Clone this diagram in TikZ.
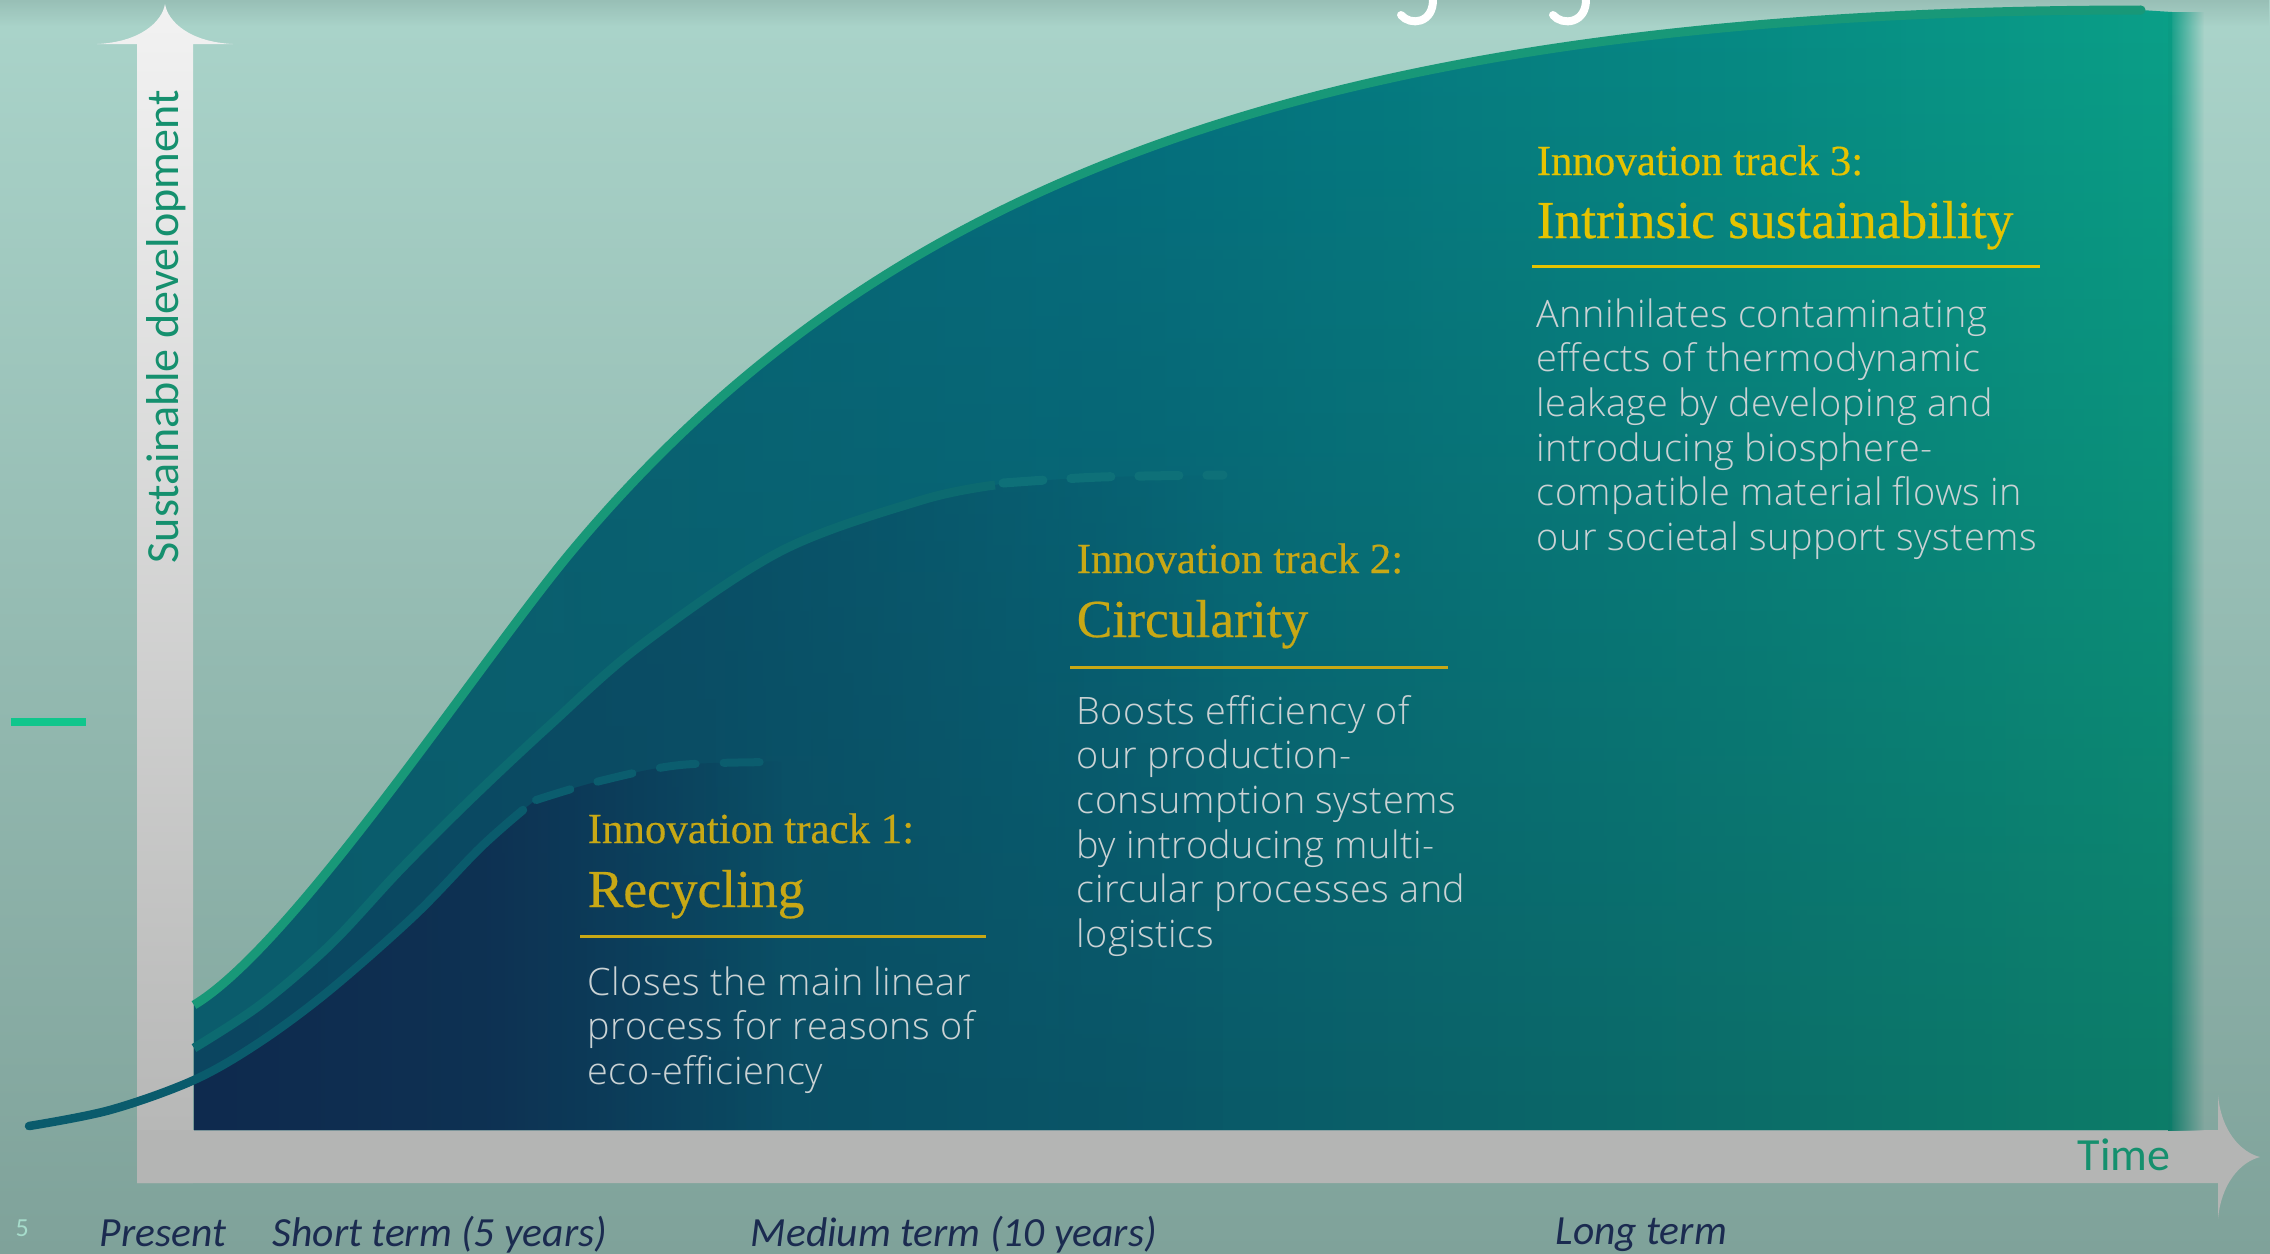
\documentclass[tikz,border=0pt]{standalone}
\usepackage{fontspec}
\usetikzlibrary{fadings}
\newfontfamily\carlito{Carlito}
\IfFontExistsTF{Open Sans Light}{\newfontfamily\bodyft{Open Sans Light}[LetterSpace=1.3]}{\newfontfamily\bodyft{Open Sans}}
\newfontfamily\serifft{Liberation Serif}[FakeBold=0.4]
\definecolor{bgtop}{HTML}{AAD4CA}
\definecolor{bgbot}{HTML}{7FA29A}
\definecolor{topband}{HTML}{98BFB6}
\definecolor{barTop}{HTML}{F2F2F2}
\definecolor{barBot}{HTML}{B4B5B4}
\definecolor{tL}{HTML}{0B5C6C}
\definecolor{tM}{HTML}{05707F}
\definecolor{tQ}{HTML}{068A84}
\definecolor{tR}{HTML}{0AA088}
\definecolor{bL}{HTML}{0B5C6C}
\definecolor{bM}{HTML}{0A5868}
\definecolor{bR}{HTML}{0D7C68}
\definecolor{mcol}{HTML}{0B4560}
\definecolor{lcol}{HTML}{0F2A4E}
\definecolor{edgeT}{HTML}{0A9C84}
\definecolor{edgeB}{HTML}{0D7A68}
\definecolor{greenline}{HTML}{189878}
\definecolor{midline}{HTML}{0C6A70}
\definecolor{lowline}{HTML}{0A5B6C}
\definecolor{middashc}{HTML}{0E7078}
\definecolor{lowdashc}{HTML}{0B5D6E}
\definecolor{gold}{HTML}{C8A815}
\definecolor{goldB}{HTML}{E6C300}
\definecolor{bodygray}{HTML}{CAD2D4}
\definecolor{navytxt}{HTML}{1B2B50}
\definecolor{axisgreen}{HTML}{15906E}
\definecolor{dashgreen}{HTML}{10C68C}
\definecolor{pagenum}{HTML}{A6DCCB}
\pgfdeclarehorizontalshading{chartT}{100bp}{color(0bp)=(tL); color(25bp)=(tL); color(48bp)=(tM); color(64bp)=(tQ); color(75bp)=(tR); color(100bp)=(tR)}
\tikzfading[name=fadeR, left color=transparent!0, right color=transparent!100]
\tikzfading[name=fadeUp, top color=transparent!100, bottom color=transparent!0]
\tikzfading[name=fadeDown, top color=transparent!0, bottom color=transparent!100]
\tikzfading[name=fadeM, left color=transparent!0, right color=transparent!100, middle color=transparent!35]
\tikzfading[name=fadeL, left color=transparent!0, right color=transparent!100, middle color=transparent!25]
\def\topcurve{(194,1005) .. controls (294,945) and (481,660) .. (571,552) .. controls (871,192) and (1300,10) .. (2141,10)}
\def\midcurve{plot[smooth,tension=0.55] coordinates {(194,1048) (260,1005) (330,945) (400,870) (470,800) (550,725) (641,645) (781,551) (922,500) (995,485)}}
\def\middash{plot[smooth,tension=0.55] coordinates {(1003,483) (1100,477) (1223,475)}}
\def\lowfull{plot[smooth,tension=0.55] coordinates {(29,1126) (110,1110) (194,1080) (260,1042) (330,990) (415,915) (480,848) (523,810)}}
\def\lowfill{plot[smooth,tension=0.55] coordinates {(194,1080) (260,1042) (330,990) (415,915) (480,848) (523,810)}}
\def\lowdash{plot[smooth,tension=0.55] coordinates {(536,800) (600,781) (680,765) (782,762)}}
\edef\regionT{(194,1130) -- \topcurve -- (2172,12) -- (2172,1130) -- cycle}
\edef\regionM{(194,1130) -- \midcurve -- \middash -- (1223,1130) -- cycle}
\edef\regionL{(194,1130) -- \lowfill -- \lowdash -- (782,1130) -- cycle}
\begin{document}
\begin{tikzpicture}[x=0.01cm,y=-0.01cm,
  vlabel/.style={font=\carlito\fontsize{13.1pt}{16pt}\selectfont, text=axisgreen, inner sep=0pt, anchor=base west},
  whenlbl/.style={font=\carlito\itshape\fontsize{11.8pt}{14pt}\selectfont, text=navytxt, inner sep=0pt, anchor=base west},
  trackhead/.style={font=\serifft\fontsize{12.2pt}{14pt}\selectfont, inner sep=0pt, anchor=base west},
  tracktitle/.style={font=\serifft\fontsize{15.2pt}{18pt}\selectfont, inner sep=0pt, anchor=base west},
  bodytxt/.style={font=\bodyft\fontsize{10.75pt}{12.7pt}\selectfont, text=bodygray, inner sep=0pt, anchor=base west},
  rulel/.style={line width=0.03cm}
]
\useasboundingbox (0,0) rectangle (2270,1253);
% background
\shade[top color=bgtop, bottom color=bgbot] (0,0) rectangle (2270,1253);
\fill[topband, path fading=fadeDown] (0,0) rectangle (2270,26);
% cut-off title fragments
\draw[white, line width=0.08cm, line cap=round] (1433,-2) .. controls (1434,24) and (1410,26) .. (1401,15);
\draw[white, line width=0.08cm, line cap=round] (1586,-2) .. controls (1587,24) and (1562,26) .. (1553,15);
% vertical axis arrow
\shade[top color=barTop, bottom color=barBot] (137,1183) -- (137,44) -- (97,44) .. controls (140,42) and (162,22) .. (165,4) .. controls (168,22) and (190,42) .. (233,44) -- (193,44) -- (193,1183) -- cycle;
% horizontal axis arrow
\fill[barBot] (137,1130) -- (2218,1130) -- (2218,1095) .. controls (2221,1130) and (2240,1152) .. (2260,1157) .. controls (2240,1162) and (2221,1184) .. (2218,1219) -- (2218,1183) -- (137,1183) -- cycle;
% chart fills
\shade[shading=chartT] \regionT;
\begin{scope}
  \clip \regionT;
  \shade[left color=bL, right color=bR, middle color=bM, path fading=fadeUp] (194,12) rectangle (2172,1130);
\end{scope}
\fill[mcol, path fading=fadeM] \regionM;
\fill[lcol, path fading=fadeL] \regionL;
\shade[top color=edgeT, bottom color=edgeB, path fading=fadeR] (2168,12) rectangle (2204,1130);
% curves
\draw[greenline, line width=0.09cm] \topcurve;
\fill[greenline] (2141,10) circle (4.5);
\draw[midline, line width=0.09cm] \midcurve;
\draw[middashc, line width=0.09cm, line cap=round, dash pattern=on 0.40cm off 0.28cm] \middash;
\draw[lowline, line width=0.085cm, line cap=round] \lowfull;
\draw[lowdashc, line width=0.08cm, line cap=round, dash pattern=on 0.36cm off 0.28cm] \lowdash;
% left marks
\fill[dashgreen] (11,718) rectangle (86,726);
\node[font=\carlito\fontsize{7.4pt}{9pt}\selectfont, text=pagenum, inner sep=0pt, anchor=base west] (pg) at (15,1236) {5};
% axis labels
\node[vlabel, rotate=90] (sd) at (178,564) {Sustainable development};
\node[vlabel] (time) at (2077,1170) {Time};
\node[whenlbl] (present) at (99,1246) {Present};
\node[whenlbl] (short) at (272,1246) {Short term (5 years)};
\node[whenlbl] (medium) at (750,1246) {Medium term (10 years)};
\node[whenlbl] (long) at (1555,1244) {Long term};
% track 1
\node[trackhead, text=gold] (h1) at (587,843) {Innovation track 1:};
\node[tracktitle, text=gold] (t1) at (587,907) {Recycling};
\draw[gold, rulel] (580,936) -- (986,936);
\node[bodytxt] (b1) at (587,995) {\begin{tabular}[t]{@{}l@{}}Closes the main linear\\process for reasons of\\eco-efficiency\end{tabular}};
% track 2
\node[trackhead, text=gold] (h2) at (1076,573) {Innovation track 2:};
\node[tracktitle, text=gold] (t2) at (1076,637) {Circularity};
\draw[gold, rulel] (1070,667) -- (1448,667);
\node[bodytxt] (b2) at (1076,724) {\begin{tabular}[t]{@{}l@{}}Boosts efficiency of\\our production-\\consumption systems\\by introducing multi-\\circular processes and\\logistics\end{tabular}};
% track 3
\node[trackhead, text=goldB] (h3) at (1536,175) {Innovation track 3:};
\node[tracktitle, text=goldB] (t3) at (1536,238) {Intrinsic sustainability};
\draw[goldB, rulel] (1532,266) -- (2040,266);
\node[bodytxt] (b3) at (1536,327) {\begin{tabular}[t]{@{}l@{}}Annihilates contaminating\\effects of thermodynamic\\leakage by developing and\\introducing biosphere-\\compatible material flows in\\our societal support systems\end{tabular}};
\end{tikzpicture}
\end{document}
